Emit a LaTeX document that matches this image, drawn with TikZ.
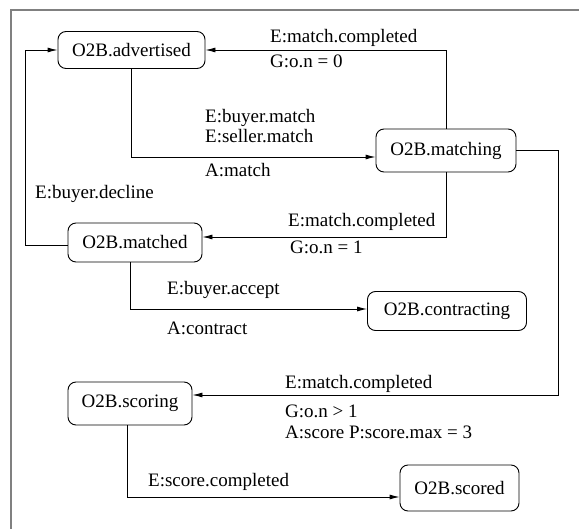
\documentclass[tikz,border=0pt]{standalone}
\usepackage{fontspec}
\setmainfont{Liberation Serif}
\usetikzlibrary{arrows.meta}
\begin{document}
\begin{tikzpicture}[x=1pt,y=-1pt,
  every node/.style={font=\fontsize{19}{21}\selectfont},
  state/.style={draw, rounded corners=8pt, line width=0.9pt, inner sep=0pt, align=center},
  lbl/.style={anchor=base west, inner sep=0pt, align=left},
  conn/.style={line width=0.9pt},
  arr/.style={conn, -{Latex[length=10pt,width=5pt]}}]
\useasboundingbox (0,0) rectangle (579,529);
\draw[line width=1.8pt, gray] (11,529) -- (11,10) -- (579,10);

\node[state, minimum width=147, minimum height=37] (adv) at (131.5,50) {O2B.advertised};
\node[state, minimum width=140, minimum height=43] (mtg) at (446,150.5) {O2B.matching};
\node[state, minimum width=134, minimum height=39] (mtd) at (135,242.5) {O2B.matched};
\node[state, minimum width=159, minimum height=39] (con) at (447,311) {O2B.contracting};
\node[state, minimum width=124, minimum height=43] (sco) at (130,403.5) {O2B.scoring};
\node[state, minimum width=119, minimum height=46] (scd) at (459.5,488) {O2B.scored};

\draw[arr] (mtg.north) |- (adv.east);
\draw[arr] (adv.south) |- ([yshift=-6.5]mtg.west);
\draw[arr] ([yshift=-2.5]mtd.west) -- ++(-42,0) |- (adv.west);
\draw[arr] (mtg.south) |- ([yshift=5.5]mtd.east);
\draw[arr] ([xshift=-5]mtd.south) |- ([yshift=2]con.west);
\draw[arr] (mtg.east) -- ++(42,0) |- ([yshift=8.5]sco.east);
\draw[arr] ([xshift=-3]sco.south) |- ([yshift=-9]scd.west);

\node[lbl] (l1) at (270,43) {E:match.completed};
\node[lbl] (l2) at (270,68) {G:o.n = 0};
\node[lbl] (l3) at (205,123) {E:buyer.match};
\node[lbl] (l4) at (205,143) {E:seller.match};
\node[lbl] (l5) at (205,177) {A:match};
\node[lbl] (l6) at (35,199) {E:buyer.decline};
\node[lbl] (l7) at (288,227) {E:match.completed};
\node[lbl] (l8) at (290,254) {G:o.n = 1};
\node[lbl] (l9) at (167,295) {E:buyer.accept};
\node[lbl] (l10) at (167,335) {A:contract};
\node[lbl] (l11) at (285,389) {E:match.completed};
\node[lbl] (l12) at (285,418) {G:o.n > 1};
\node[lbl] (l13) at (285,439) {A:score P:score.max = 3};
\node[lbl] (l14) at (148,486) {E:score.completed};
\end{tikzpicture}
\end{document}
